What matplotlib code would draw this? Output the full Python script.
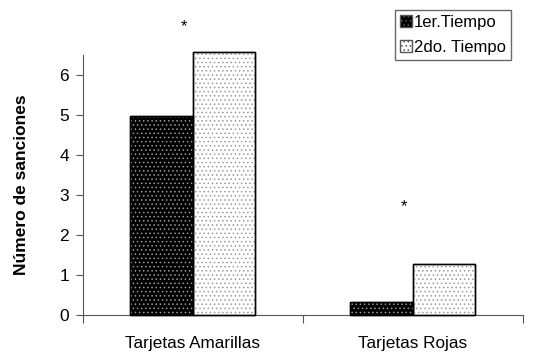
import matplotlib
matplotlib.use("Agg")
import matplotlib.pyplot as plt
import numpy as np
from matplotlib.patches import Patch

plt.rcParams['font.family'] = ['Liberation Sans', 'DejaVu Sans']
plt.rcParams['hatch.linewidth'] = 0.6

categories = ["Tarjetas Amarillas", "Tarjetas Rojas"]
series_names = ["1er.Tiempo", "2do. Tiempo"]
primer_tiempo = [4.97, 0.33]
segundo_tiempo = [6.57, 1.28]
y_ticks = [0, 1, 2, 3, 4, 5, 6]
significance = ["*", "*"]
star_heights = [7.2, 2.7]

fig = plt.figure(figsize=(5.34, 3.52), dpi=100)
ax = fig.add_axes([0.155, 0.105, 0.824, 0.739])

centers = np.arange(len(categories)) + 0.5
w = 0.285

face = ['black', 'white']
hatch_col = ['#9a9a9a', '#9a9a9a']
for i, (vals, name) in enumerate(zip([primer_tiempo, segundo_tiempo], series_names)):
    xs = centers + (i - 0.5) * w
    ax.bar(xs, vals, width=w, color=face[i], edgecolor='black', linewidth=1.0,
           clip_on=False, zorder=2, label=name)
    ax.bar(xs, vals, width=w, color='none', edgecolor=hatch_col[i], hatch='....',
           linewidth=0, clip_on=False, zorder=3)
    ax.bar(xs, vals, width=w, color='none', edgecolor='black', linewidth=1.0,
           clip_on=False, zorder=4)

for c, s, h in zip(centers, significance, star_heights):
    ax.text(c - 0.04, h, s, ha='center', va='center', fontsize=12, clip_on=False)

ax.set_xlim(0, 2)
ax.set_ylim(0, 6.5)
ax.set_yticks(y_ticks)
ax.set_xticks([0, 1, 2])
ax.set_xticklabels([])
ax.set_xticks(centers, minor=True)
ax.set_xticklabels(categories, minor=True, fontsize=12.3)
ax.tick_params(axis='x', which='minor', length=0, pad=15)
ax.tick_params(axis='x', which='major', length=6, direction='out', color='#555555')
ax.tick_params(axis='y', length=5, direction='out', labelsize=12.5, color='#555555', pad=5)
for sp in ['top', 'right']:
    ax.spines[sp].set_visible(False)
for sp in ['left', 'bottom']:
    ax.spines[sp].set_color('#555555')

ax.set_ylabel("Número de sanciones", fontsize=12.5, fontweight='bold', labelpad=22)

h = [Patch(facecolor='black', edgecolor='#555555', hatch='....', label=series_names[0]),
     Patch(facecolor='white', edgecolor='#555555', hatch='....', label=series_names[1])]
leg = fig.legend(handles=h, loc='upper left', bbox_to_anchor=(395/534, 1 - 10/352),
                 fontsize=12, frameon=True, fancybox=False, edgecolor='#444444',
                 handlelength=0.7, handleheight=0.7, handletextpad=0.15,
                 borderpad=0.3, labelspacing=0.6, borderaxespad=0)
leg.get_frame().set_linewidth(1.0)

fig.savefig("out.png", dpi=100)
